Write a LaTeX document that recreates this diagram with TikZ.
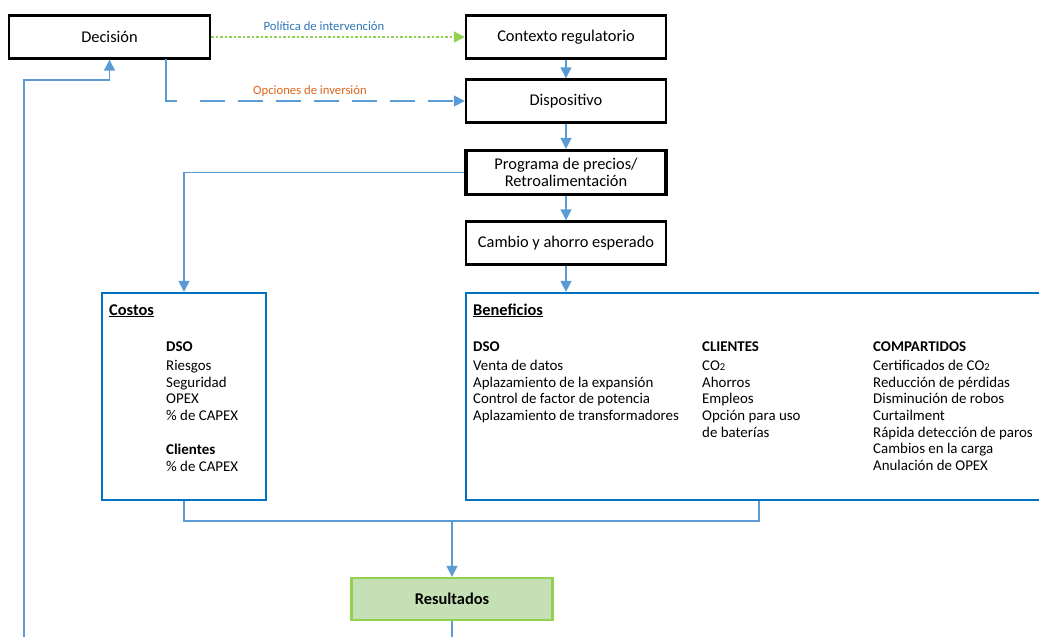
\documentclass[tikz,border=0pt]{standalone}
\usepackage{fontspec}
\setmainfont{Carlito}
\usetikzlibrary{arrows.meta}
\definecolor{conn}{HTML}{5B9BD5}
\definecolor{bluebox}{HTML}{0070C0}
\definecolor{grn}{HTML}{92D050}
\definecolor{grnfill}{HTML}{C5E0B4}
\definecolor{orng}{HTML}{D9651C}
\definecolor{lblblue}{HTML}{2E75B6}
\tikzset{
  box/.style={draw=black, line width=2.4pt, fill=white, inner sep=0pt, minimum width=200pt, minimum height=43pt, align=center, font=\fontsize{16.4}{18}\selectfont},
  bbox/.style={draw=bluebox, line width=2.3pt, fill=white, inner sep=0pt},
  connline/.style={draw=conn, line width=1.5pt},
  tip/.style={-{Triangle[length=11pt,width=11pt]}},
  arr/.style={connline, tip},
  lbl/.style={anchor=base west, inner sep=0pt},
  hdr/.style={lbl, font=\fontsize{16.4}{18}\selectfont},
  small/.style={font=\fontsize{12.7}{14}\selectfont}
}
\begin{document}
\begin{tikzpicture}[x=1pt,y=-1pt,font=\fontsize{14.9}{17}\selectfont]
\useasboundingbox (0,0) rectangle (1039,637);
% main boxes
\node[box, minimum width=201pt] (dec) at (109.5,37) {Decisión};
\node[box] (ctx) at (566,37) {Contexto regulatorio};
\node[box] (disp) at (566,101) {Dispositivo};
\node[box, line width=3.2pt, minimum height=44pt] (prog) at (566,172.5) {Programa de precios/\\[-1.5pt]Retroalimentación};
\node[box] (camb) at (566,243) {Cambio y ahorro esperado};
\node[bbox, minimum width=164pt, minimum height=207pt] (cost) at (184,396.5) {};
\node[bbox, minimum width=586pt, minimum height=207pt] (ben) at (759,396.5) {};
\node[draw=grn, fill=grnfill, line width=2.3pt, minimum width=201pt, minimum height=42pt, inner sep=0pt, font=\fontsize{16.4}{18}\selectfont\bfseries] (res) at (452,599) {Resultados};
% coordinates
\coordinate (bl) at (24,640);
\coordinate (fb) at (109.5,80);
\coordinate (dd) at (166,59);
\coordinate (j) at (452,521);
% labels
\node[small, text=lblblue] (lpol) at (324,26) {Política de intervención};
\node[small, text=orng] (lopc) at (310,91) {Opciones de inversión};
% connectors
\draw[line width=1.7pt, draw=grn, dash pattern=on 2.6pt off 1.9pt, tip, color=grn] (dec.east) -- (ctx.west);
\draw[arr, dash pattern=on 53pt off 23pt on 25pt off 13pt on 25pt off 13pt on 25pt off 13pt on 25pt off 13pt on 25pt off 13pt on 25pt off 13pt on 25pt off 13pt] (dd) |- (disp.west);
\draw[arr] (ctx) -- (disp);
\draw[arr] (disp) -- (prog);
\draw[arr] (prog) -- (camb);
\draw[arr] (camb) -- (camb |- ben.north);
\draw[arr] (prog.west) -| (cost.north);
\draw[connline] (cost.south) |- (j);
\draw[connline] (ben.south) |- (j);
\draw[arr] (j) -- (res.north);
\draw[connline] (res.south) -- (res.south |- bl);
\draw[arr] (bl) |- (fb) -- (dec.south);
% Costos content
\node[hdr] (ch) at (109,315) {\underline{\textbf{Costos}}};
\node[lbl] (c0) at (166,351.5) {\textbf{DSO}};
\foreach \t [count=\i] in {Riesgos,Seguridad,OPEX,\% de CAPEX}
  \node[lbl] (c\i) at (166,354+16.6*\i) {\t};
\node[lbl] (cc) at (166,454.5) {\textbf{Clientes}};
\node[lbl] (cc1) at (166,471.5) {\% de CAPEX};
% Beneficios content
\node[hdr] (bh) at (473,315) {\underline{\textbf{Beneficios}}};
\node[lbl] (d0) at (473,351.5) {\textbf{DSO}};
\foreach \t [count=\i] in {Venta de datos,Aplazamiento de la expansión,Control de factor de potencia,Aplazamiento de transformadores}
  \node[lbl] (d\i) at (473,354+16.6*\i) {\t};
\node[lbl] (k0) at (702,351.5) {\textbf{CLIENTES}};
\foreach \t [count=\i] in {CO{\fontsize{10.5}{12}\selectfont 2},Ahorros,Empleos,Opción para uso,de baterías}
  \node[lbl] (k\i) at (702,354+16.6*\i) {\t};
\node[lbl] (m0) at (873,351.5) {\textbf{COMPARTIDOS}};
\foreach \t [count=\i] in {Certificados de CO{\fontsize{10.5}{12}\selectfont 2},Reducción de pérdidas,Disminución de robos,Curtailment,Rápida detección de paros,Cambios en la carga,Anulación de OPEX}
  \node[lbl] (m\i) at (873,354+16.6*\i) {\t};
\end{tikzpicture}
\end{document}
